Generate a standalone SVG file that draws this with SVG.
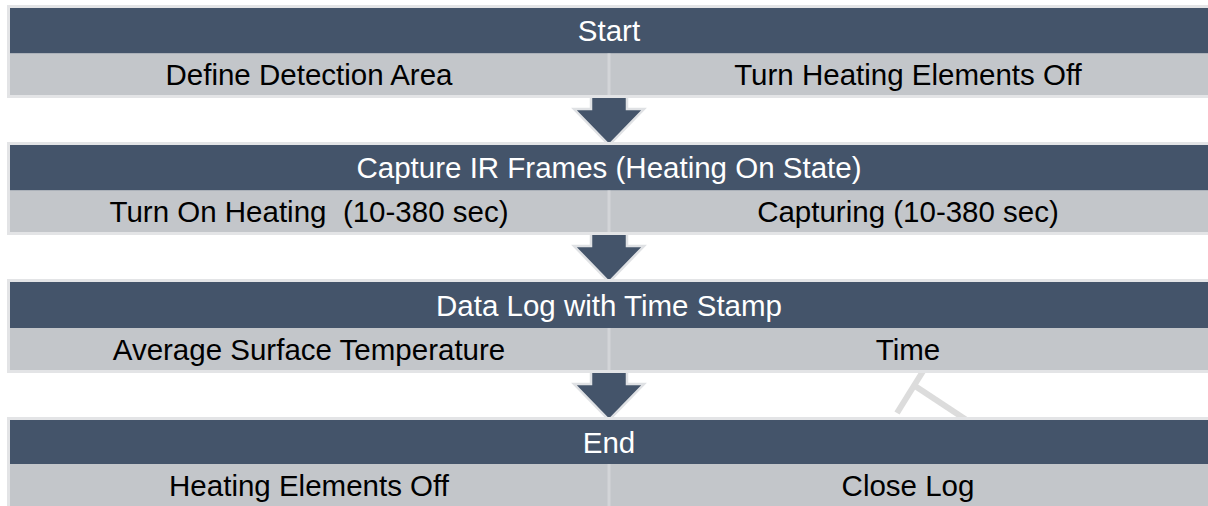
<svg xmlns="http://www.w3.org/2000/svg" width="1208" height="506" viewBox="0 0 1208 506">
<style>
.frame{fill:#e3e4e6}
.hdr{fill:#44546a}
.row{fill:#c3c6ca}
.div{stroke:#d3d5d8;stroke-width:3}
.ht{font-family:"Liberation Sans",Arial,sans-serif;font-size:29.5px;fill:#ffffff;text-anchor:middle}
.rt{font-family:"Liberation Sans",Arial,sans-serif;font-size:29.5px;fill:#000000;text-anchor:middle}
.arr{fill:#44546a;stroke:#dfe1e4;stroke-width:2.5;stroke-linejoin:miter}
.mark{stroke:#dcdcdc;stroke-width:6;fill:none}
</style>
<rect width="1208" height="506" fill="#ffffff"/>
<g id="artifact">
<line class="mark" x1="897" y1="413" x2="925" y2="368"/>
<line class="mark" x1="915" y1="386" x2="968" y2="421"/>
</g>
<g id="connectors">
<polygon class="arr" points="591,94 627,94 627,109 644,109 609,145 574,109 591,109"/>
<polygon class="arr" points="591,231 627,231 627,246 644,246 609,282 574,246 591,246"/>
<polygon class="arr" points="591,369 627,369 627,384 644,384 609,420 574,384 591,384"/>
</g>
<g id="start">
<rect class="frame" x="7" y="5" width="1204" height="93"/>
<rect class="hdr" x="10" y="8" width="1198" height="45.5"/>
<rect class="row" x="10" y="53.5" width="1198" height="41.5"/>
<line class="div" x1="609" y1="53.5" x2="609" y2="95"/>
<text class="ht" x="609" y="41">Start</text>
<text class="rt" x="309" y="85">Define Detection Area</text>
<text class="rt" x="908" y="85">Turn Heating Elements Off</text>
</g>
<g id="capture">
<rect class="frame" x="7" y="142" width="1204" height="93"/>
<rect class="hdr" x="10" y="145" width="1198" height="45.5"/>
<rect class="row" x="10" y="190.5" width="1198" height="41.5"/>
<line class="div" x1="609" y1="190.5" x2="609" y2="232"/>
<text class="ht" x="609" y="178">Capture IR Frames (Heating On State)</text>
<text class="rt" x="309" y="222">Turn On Heating&#160; (10-380 sec)</text>
<text class="rt" x="908" y="222">Capturing (10-380 sec)</text>
</g>
<g id="datalog">
<rect class="frame" x="7" y="279" width="1204" height="94"/>
<rect class="hdr" x="10" y="282" width="1198" height="46"/>
<rect class="row" x="10" y="328" width="1198" height="42"/>
<line class="div" x1="609" y1="328" x2="609" y2="370"/>
<text class="ht" x="609" y="315.5">Data Log with Time Stamp</text>
<text class="rt" x="309" y="359.5">Average Surface Temperature</text>
<text class="rt" x="908" y="359.5">Time</text>
</g>
<g id="end">
<rect class="frame" x="7" y="417" width="1204" height="92"/>
<rect class="hdr" x="10" y="420" width="1198" height="44"/>
<rect class="row" x="10" y="464" width="1198" height="42"/>
<line class="div" x1="609" y1="464" x2="609" y2="506"/>
<text class="ht" x="609" y="452.5">End</text>
<text class="rt" x="309" y="495.5">Heating Elements Off</text>
<text class="rt" x="908" y="495.5">Close Log</text>
</g>
</svg>
